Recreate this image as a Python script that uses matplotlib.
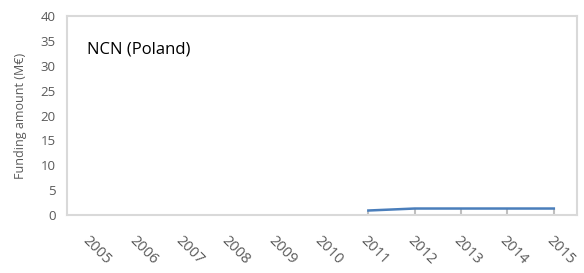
import matplotlib
matplotlib.use("Agg")
import matplotlib.pyplot as plt

years = ["2005", "2006", "2007", "2008", "2009", "2010", "2011", "2012", "2013", "2014", "2015"]
funding_years = ["2011", "2012", "2013", "2014", "2015"]
funding = [0.9, 1.3, 1.3, 1.3, 1.3]
y_ticks = [0, 5, 10, 15, 20, 25, 30, 35, 40]

plt.rcParams['font.family'] = ['Open Sans', 'DejaVu Sans']

fig = plt.figure(figsize=(5.84, 2.73), dpi=100)
ax = fig.add_axes([0.1147, 0.2125, 0.8733, 0.7285])

xpos = [years.index(y) for y in funding_years]
ax.vlines(xpos, 0, funding, color="#bfbfbf", lw=1.5, zorder=2)
ax.plot(xpos, funding, color="#4a7ebb", lw=1.8, zorder=3)

ax.set_xlim(-0.5, len(years) - 0.5)
ax.set_ylim(0, 40)
ax.set_yticks(y_ticks)
ax.set_xticks(range(len(years)))
ax.set_xticklabels(years, rotation=-45, ha="left", va="top", rotation_mode="anchor")
ax.tick_params(axis="both", length=0, colors="#595959", labelsize=9.5, pad=8)
ax.tick_params(axis="x", pad=13, labelsize=10.5)
for s in ax.spines.values():
    s.set_color("#d9d9d9")
    s.set_linewidth(1.5)
ax.set_ylabel("Funding amount (M€)", color="#595959", fontsize=9, labelpad=10)
ax.text(0.04, 0.83, "NCN (Poland)", transform=ax.transAxes, fontsize=12, color="black", va="center")

fig.savefig("out.png", dpi=100)
